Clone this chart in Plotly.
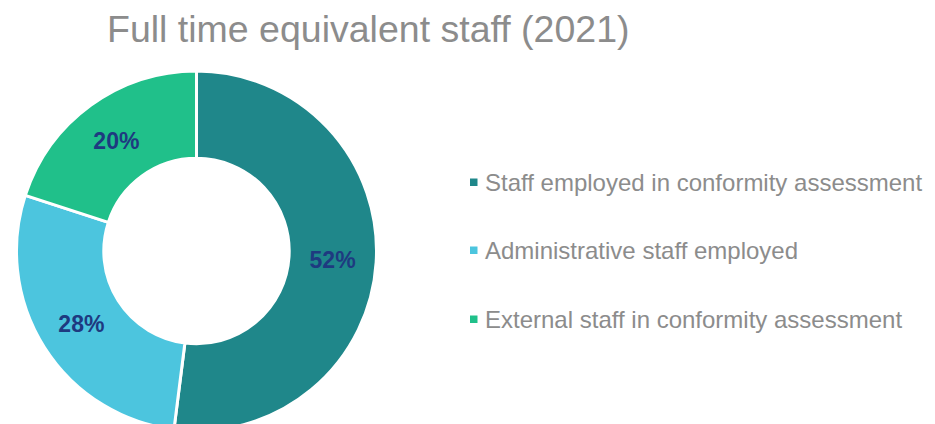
import plotly.graph_objects as go

labels = ["Staff employed in conformity assessment",
          "Administrative staff employed",
          "External staff in conformity assessment"]
values = [52, 28, 20]
colors = ["#1F878A", "#4CC5DE", "#20C08A"]
title_text = "Full time equivalent staff (2021)"

# page has an 8px body margin; work in figure coordinates
W, H = 927, 424
FONT = "Liberation Sans, Arial, sans-serif"

cx, cy, r = 188.5, 243, 180  # figure px (from top-left)

fig = go.Figure()
fig.add_trace(go.Pie(
    labels=labels, values=values, sort=False, direction="clockwise", rotation=0,
    hole=0.515,
    marker=dict(colors=colors, line=dict(color="white", width=3)),
    textinfo="percent", texttemplate="%{percent:.0%}",
    textposition="inside", insidetextorientation="horizontal",
    textfont=dict(family=FONT, size=23, color="#1E3A80", weight="bold"),
    domain=dict(x=[(cx - r) / W, (cx + r) / W],
                y=[(H - (cy + r)) / H, (H - (cy - r)) / H]),
    showlegend=False, hoverinfo="label+percent",
))

# Legend drawn as annotations + square markers to match spacing
leg_y = [174, 242, 311]
for lab, col, yy in zip(labels, colors, leg_y):
    fig.add_annotation(x=475 / W, y=1 - yy / H, xref="paper", yref="paper",
                       xanchor="left", yanchor="middle", showarrow=False,
                       text=lab, font=dict(family=FONT, size=24, color="#8C8C8C"))
    fig.add_shape(type="rect", xref="paper", yref="paper",
                  x0=462 / W, x1=469.5 / W, y0=1 - (yy + 4) / H, y1=1 - (yy - 3.5) / H,
                  fillcolor=col, line=dict(width=0))

fig.add_annotation(x=360 / W, y=1, xref="paper", yref="paper",
                   xanchor="center", yanchor="top", showarrow=False, yshift=2,
                   text=title_text, font=dict(family=FONT, size=37.5, color="#8C8C8C"))

fig.update_layout(width=W, height=H, margin=dict(l=0, r=0, t=0, b=0),
                  paper_bgcolor="white", plot_bgcolor="white")
fig.write_html("out.html")
